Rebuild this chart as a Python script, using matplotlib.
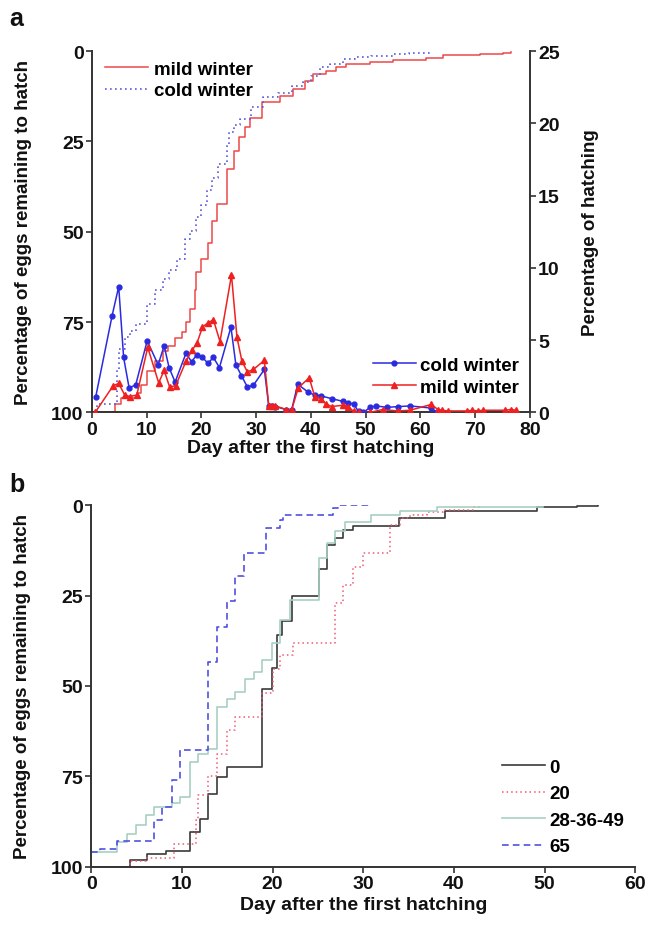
import matplotlib

matplotlib.use("Agg")

import matplotlib.pyplot as plt

plt.rcParams["font.family"] = ["Liberation Sans", "DejaVu Sans"]
plt.rcParams["font.weight"] = "bold"

# ---- panel a: cumulative curves (percentage of eggs remaining) ----
mild_days = [0, 4.2, 5.4, 8.2, 9.0, 10, 11.5, 13, 13.9, 15.2, 16.4, 17.2, 17.9, 18.8, 19.1, 20,
             21.2, 22, 22.8, 24.6, 25.9, 26.9, 27.9, 28.8, 31, 34.3, 36.8, 38.9, 40.4, 42.8,
             44.6, 46.5, 50.8, 55, 61.1, 64.1, 70.9, 75.1, 76.6]
mild_rem = [100, 97.8, 96, 94.5, 92.5, 88.6, 85.8, 82.9, 81.6, 79.5, 77.8, 75, 71.5, 66, 61.2, 57.6,
            53, 47, 42.4, 32.7, 27.6, 23.9, 21.1, 18.5, 14.2, 12.4, 10.5, 8.2, 6.4, 5.4,
            4.4, 3.6, 3.0, 2.5, 2.0, 1.2, 0.8, 0.6, 0.2]

cold_days = [0, 1, 4.5, 5, 6, 7, 8, 10, 11.5, 13, 14, 15.5, 17, 18, 19, 20, 21, 22, 23, 24.6,
             25, 26, 27, 29, 31.3, 34, 36.5, 38.6, 40, 41.6, 43.5, 45.8, 48, 51, 55, 58, 61.7]
cold_rem = [100, 97.8, 88, 82.5, 79, 77.5, 75.6, 70, 66, 63, 60.5, 57.6, 52, 49.8, 46, 42.5, 38.5,
            35, 31.3, 26, 22.5, 20.5, 18.8, 15.6, 12.8, 11.5, 9.6, 8.6, 6.8, 4.4, 3.6, 2.2, 1.6,
            1.3, 0.8, 0.5, 0.0]

# ---- panel a: daily hatching percentages ----
cold_hatch_days = [0.7, 3.7, 4.9, 5.8, 6.8, 8.0, 10.1, 12.1, 13.2, 14.1, 15.2, 17.2, 18.2, 19.2,
                   20.2, 21.2, 22.2, 23.3, 25.4, 26.3, 27.3, 28.4, 29.5, 31.5, 32.3, 32.9, 33.5,
                   35.5, 36.5, 37.6, 39.5, 40.7, 41.8, 43.8, 45.8, 46.8, 47.8, 48.7, 49.6, 50.8,
                   51.9, 53.9, 55.9, 58.1, 62.0, 63.0]
cold_hatch = [1.07, 6.7, 8.7, 3.8, 1.7, 1.9, 4.95, 3.3, 4.6, 3.1, 2.1, 4.1, 3.5, 4.0,
              3.8, 3.4, 3.8, 3.1, 5.9, 3.3, 2.55, 1.76, 1.88, 2.97, 0.47, 0.47, 0.4,
              0.2, 0.2, 1.95, 1.4, 1.2, 1.15, 0.95, 0.77, 0.65, 0.58, 0.07, 0.0, 0.35,
              0.45, 0.35, 0.4, 0.45, 0.3, 0.0]

mild_hatch_days = [0.6, 3.9, 4.9, 6.0, 6.9, 8.2, 10.2, 12.2, 13.2, 14.2, 15.3, 17.2, 18.3, 19.2,
                   20.2, 21.2, 22.2, 23.4, 25.5, 26.5, 27.4, 28.4, 29.5, 31.5, 32.3, 32.9, 33.5,
                   35.5, 36.5, 37.7, 39.7, 40.7, 41.8, 42.7, 43.8, 45.8, 46.8, 47.8, 48.7, 50.8,
                   53.1, 55.9, 58.1, 62.0, 63.2, 64.0, 65.0, 68.5, 69.5, 70.5, 71.5, 75.5, 76.5, 77.5]
mild_hatch = [0.0, 1.85, 2.0, 1.2, 1.1, 1.2, 4.5, 2.05, 2.9, 1.76, 1.85, 3.55, 4.3, 4.8,
              5.9, 6.2, 6.4, 4.9, 9.5, 5.2, 3.55, 2.8, 2.97, 3.6, 0.47, 0.45, 0.45,
              0.2, 0.2, 1.7, 2.4, 1.1, 0.95, 0.6, 0.4, 0.5, 0.4, 0.07, 0.0, 0.0,
              0.2, 0.1, 0.15, 0.55, 0.2, 0.15, 0.1, 0.1, 0.15, 0.1, 0.15, 0.15, 0.2, 0.15]

# ---- panel b: cumulative curves by treatment ----
b_labels = ["0", "20", "28-36-49", "65"]
b0_days = [0, 4.3, 6.2, 8.3, 10.9, 12.0, 12.9, 13.9, 15.0, 18.8, 19.9, 20.5, 21.0, 22.1,
           25.1, 26.0, 26.9, 27.8, 28.9, 33.9, 39.0, 49.1, 53.6, 55.9]
b0_rem = [100, 98.2, 96.4, 95.7, 90.4, 86.7, 79.8, 75.2, 72.3, 50.7, 45.0, 35.9, 32.1, 25.2,
          17.5, 11.0, 9.0, 6.8, 5.6, 3.6, 1.6, 0.6, 0.2, 0.0]
b20_days = [0, 4.3, 6.0, 9.1, 11.6, 11.8, 12.9, 13.9, 15.0, 15.9, 18.8, 20.0, 20.8, 22.3,
            26.9, 27.8, 28.9, 30.0, 33.0, 34.0, 35.2, 37.0, 38.8, 42.2, 42.9]
b20_rem = [100, 98.5, 97.5, 93.8, 87.2, 80.2, 75.0, 68.7, 62.2, 58.5, 52.0, 45.2, 41.5, 38.2,
           27.1, 22.1, 17.0, 13.3, 5.4, 3.6, 2.7, 1.8, 1.3, 0.4, 0.0]
b28_days = [0, 2.8, 3.9, 4.9, 6.0, 6.9, 8.9, 9.8, 10.9, 11.8, 12.9, 13.9, 15.0, 15.9, 17.0,
            17.9, 18.8, 19.9, 20.8, 21.9, 25.1, 26.0, 26.9, 28.0, 30.8, 34.0, 38.1, 49.8]
b28_rem = [96, 93.2, 90.9, 88.6, 85.8, 83.5, 82.3, 80.7, 71.0, 68.7, 67.5, 55.8, 53.5, 51.7,
           48.0, 46.0, 42.8, 38.2, 31.8, 26.2, 14.7, 10.5, 7.2, 4.5, 2.7, 1.5, 0.4, 0.4]
b65_days = [0, 1.0, 2.8, 6.9, 7.8, 8.9, 9.8, 12.9, 13.9, 15.0, 15.9, 16.8, 19.3, 20.8, 21.2,
            26.7, 27.2, 31.0]
b65_rem = [96, 95, 93, 87.2, 83.5, 76.1, 67.8, 43.3, 33.6, 26.4, 19.7, 13.3, 6.4, 4.2, 2.7,
           0.8, 0.0, 0.0]

TXT = "#111111"
AX = "#333333"
FS_TICK = 14
FS_LAB = 14
FS_YLAB = 13.5
FS_LEG = 13.5

fig = plt.figure(figsize=(6.47, 9.29), dpi=100)

# ===== panel a =====
ax1 = fig.add_axes([0.142, 0.555, 0.677, 0.389])
ax1.step(mild_days, mild_rem, where="post", color="#ee4848", lw=1.1, label="mild winter")
ax1.step(cold_days, cold_rem, where="post", color="#5a5ae0", lw=1.2, ls=(0, (1, 2)),
         label="cold winter")
ax1.set_xlim(0, 80)
ax1.set_ylim(100, 0)
ax1.set_xticks(range(0, 81, 10))
ax1.set_yticks([0, 25, 50, 75, 100])
ax1.set_xlabel("Day after the first hatching", fontsize=FS_LAB, fontweight="bold", color=TXT,
               labelpad=1)
ax1.set_ylabel("Percentage of eggs remaining to hatch", fontsize=FS_YLAB, fontweight="bold",
               color=TXT, labelpad=14)
ax1.legend(loc="upper left", bbox_to_anchor=(0.0, 1.01), frameon=False, fontsize=FS_LEG,
           handlelength=2.3, handletextpad=0.3, labelspacing=0.25, borderaxespad=0.3)

ax2 = ax1.twinx()
ax2.plot(cold_hatch_days, cold_hatch, color="#2a2ae0", lw=1.1, marker="o", ms=3.5,
         label="cold winter")
ax2.plot(mild_hatch_days, mild_hatch, color="#ee2020", lw=1.1, marker="^", ms=3.8,
         label="mild winter")
ax2.set_ylim(0, 25)
ax2.set_yticks([0, 5, 10, 15, 20, 25])
ax2.set_ylabel("Percentage of hatching", fontsize=FS_YLAB, fontweight="bold", color=TXT,
               labelpad=16)
ax2.legend(loc="lower right", bbox_to_anchor=(1.0, 0.015), frameon=False, fontsize=FS_LEG,
           handlelength=2.3, handletextpad=0.2, labelspacing=0.25, borderaxespad=0.2)

for ax in (ax1, ax2):
    ax.spines["top"].set_visible(False)
    for s in ax.spines.values():
        s.set_color(AX)
        s.set_linewidth(1.4)
    ax.tick_params(direction="out", length=4, width=1.2, color=AX, labelsize=FS_TICK,
                   labelcolor=TXT, pad=2)
ax1.spines["right"].set_visible(False)
ax2.spines["left"].set_visible(False)
ax2.spines["bottom"].set_visible(False)

# ===== panel b =====
ax3 = fig.add_axes([0.141, 0.066, 0.841, 0.389])
ax3.step(b0_days, b0_rem, where="post", color="#3a3a3a", lw=1.2, label=b_labels[0])
ax3.step(b20_days, b20_rem, where="post", color="#f05a6e", lw=1.1, ls=(0, (1, 2)),
         label=b_labels[1])
ax3.step(b28_days, b28_rem, where="post", color="#a8cfc4", lw=1.2, label=b_labels[2])
ax3.step(b65_days, b65_rem, where="post", color="#5050e0", lw=1.2, ls=(0, (4, 2.5)),
         label=b_labels[3])
ax3.set_xlim(0, 60)
ax3.set_ylim(100, 0)
ax3.set_xticks(range(0, 61, 10))
ax3.set_yticks([0, 25, 50, 75, 100])
ax3.set_xlabel("Day after the first hatching", fontsize=FS_LAB, fontweight="bold", color=TXT,
               labelpad=3)
ax3.set_ylabel("Percentage of eggs remaining to hatch", fontsize=FS_YLAB, fontweight="bold",
               color=TXT, labelpad=14)
ax3.legend(loc="lower right", bbox_to_anchor=(1.0, 0.0), frameon=False, fontsize=FS_LEG,
           handlelength=2.3, handletextpad=0.2, labelspacing=0.5, borderaxespad=0.2)
ax3.spines["top"].set_visible(False)
ax3.spines["right"].set_visible(False)
for s in ax3.spines.values():
    s.set_color(AX)
    s.set_linewidth(1.4)
ax3.tick_params(direction="out", length=4, width=1.2, color=AX, labelsize=FS_TICK,
                labelcolor=TXT, pad=2)

fig.text(0.015, 0.972, "a", fontsize=18, fontweight="bold", color=TXT)
fig.text(0.015, 0.470, "b", fontsize=18, fontweight="bold", color=TXT)

fig.savefig("out.png", dpi=100)
